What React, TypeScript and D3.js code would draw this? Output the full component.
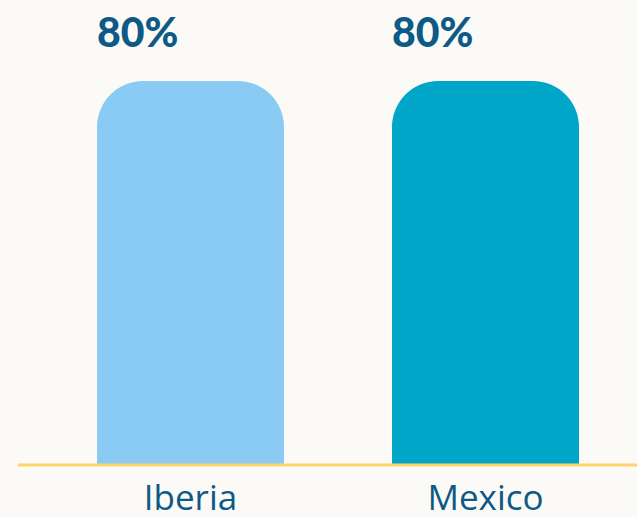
import React from "react";
import * as d3 from "d3";

const categories: string[] = ["Iberia", "Mexico"];
const values: number[] = [80, 80];
const valueLabels: string[] = ["80%", "80%"];
const colors: string[] = ["#89cbf2", "#00a6c8"];

const W = 637;
const H = 517;

export default function App() {
  const x = d3.scaleBand<string>().domain(categories).range([97, 579]).paddingInner(0.366).paddingOuter(0);
  const y = d3.scaleLinear().domain([0, 80]).range([465, 81]);
  const bw = x.bandwidth();
  const r = 46;

  const barPath = (x0: number, y0: number, w: number, yb: number) => {
    const rr = Math.min(r, w / 2, yb - y0);
    return `M${x0},${yb} L${x0},${y0 + rr} A${rr},${rr} 0 0 1 ${x0 + rr},${y0} L${x0 + w - rr},${y0} A${rr},${rr} 0 0 1 ${x0 + w},${y0 + rr} L${x0 + w},${yb} Z`;
  };

  return (
    <svg width={W} height={H} style={{ position: "absolute", left: 0, top: 0, background: "#fcfaf6" }}>
      <rect x={0} y={0} width={W} height={H} fill="#fcfaf6" />
      {categories.map((c, i) => {
        const x0 = x(c)!;
        return (
          <g key={c}>
            <path d={barPath(x0, y(values[i]), bw, y(0))} fill={colors[i]} />
            <text x={x0} y={47} fontFamily="Lato" fontWeight={900} fontSize={41} fill="#0d5a87">
              {valueLabels[i]}
            </text>
            <text x={x0 + bw / 2} y={510} textAnchor="middle" fontFamily="Open Sans" fontSize={35} fill="#0d5a87">
              {c}
            </text>
          </g>
        );
      })}
      <line x1={18} x2={W} y1={y(0)} y2={y(0)} stroke="#fdd36a" strokeWidth={3} />
    </svg>
  );
}
